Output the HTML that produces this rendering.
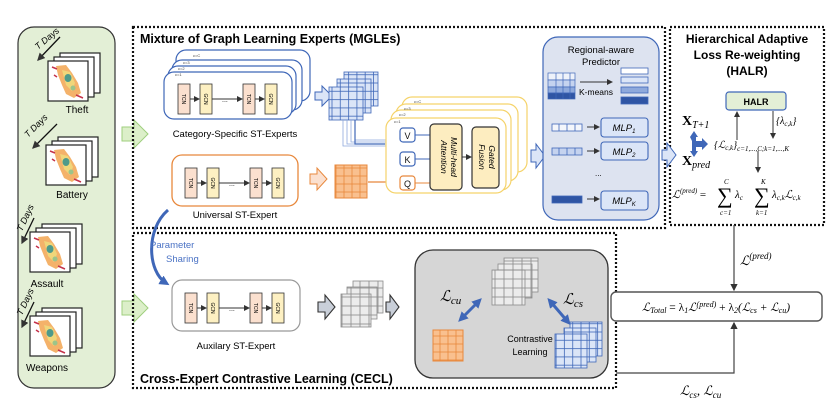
<!DOCTYPE html>
<html><head><meta charset="utf-8"><style>
html,body{margin:0;padding:0;background:#fff;width:831px;height:413px;overflow:hidden}
svg{display:block}
text{font-family:"Liberation Sans",sans-serif}
.m{font-family:"Liberation Serif",serif;font-style:italic}
.s{font-family:"Liberation Serif",serif}
</style></head><body>
<svg width="831" height="413" viewBox="0 0 831 413" xmlns="http://www.w3.org/2000/svg">
<defs>
<pattern id="gb" width="8.3" height="8.3" patternUnits="userSpaceOnUse"><rect width="8.3" height="8.3" fill="#dbe5f7" stroke="#3f67b8" stroke-width="0.8"/></pattern>
<pattern id="go" width="8" height="8" patternUnits="userSpaceOnUse"><rect width="8" height="8" fill="#f9c08f" stroke="#e8883c" stroke-width="0.8"/></pattern>
<pattern id="gg" width="9" height="9" patternUnits="userSpaceOnUse"><rect width="9" height="9" fill="#ececec" stroke="#8a8a8a" stroke-width="0.8"/></pattern>
<marker id="ar" markerWidth="6" markerHeight="6" refX="5" refY="3" orient="auto"><path d="M0,0 L6,3 L0,6 z" fill="#333"/></marker>
<marker id="arb" markerWidth="6" markerHeight="6" refX="5" refY="3" orient="auto"><path d="M0,0 L6,3 L0,6 z" fill="#3f67b8"/></marker>
<marker id="arbig" markerUnits="userSpaceOnUse" markerWidth="10" markerHeight="10" refX="6" refY="5" orient="auto-start-reverse"><path d="M0,0 L10,5 L0,10 z" fill="#3f67b8"/></marker>
<marker id="aro" markerWidth="6" markerHeight="6" refX="5" refY="3" orient="auto"><path d="M0,0 L6,3 L0,6 z" fill="#e8883c"/></marker>
<g id="map">
<rect x="12" y="-8" width="40" height="40" fill="#fff" stroke="#222" stroke-width="1.2"/>
<rect x="6" y="-4" width="40" height="40" fill="#fff" stroke="#222" stroke-width="1.2"/>
<rect x="0" y="0" width="40" height="40" fill="#fff" stroke="#222" stroke-width="1.2"/>
<path d="M8,5 L18,4 L24,12 L30,22 L33,32 L26,37 L18,33 L14,24 L10,14 z" fill="#f4b26a"/>
<path d="M14,9 L22,11 L27,22 L24,30 L18,24 z" fill="#f0d67a"/>
<ellipse cx="20" cy="17" rx="3.5" ry="4" fill="#4f9a8a"/>
<circle cx="25" cy="27" r="2.5" fill="#9cc48a"/>
<path d="M4,6 L9,8 M28,34 L35,37 M6,14 L9,16" stroke="#c4324a" stroke-width="1.5"/>
</g>
<g id="tg">
<rect x="0" y="0" width="12" height="30" fill="#fbe0cf" stroke="#333" stroke-width="0.8"/>
<text x="6" y="15" font-size="5" text-anchor="middle" transform="rotate(90 6 15)" dy="2">TCN</text>
<rect x="22" y="0" width="12" height="30" fill="#fdf0c2" stroke="#333" stroke-width="0.8"/>
<text x="28" y="15" font-size="5" text-anchor="middle" transform="rotate(90 28 15)" dy="2">GCN</text>
<line x1="12" y1="15" x2="21" y2="15" stroke="#333" marker-end="url(#ar)"/>
<line x1="34" y1="15" x2="64" y2="15" stroke="#333" marker-end="url(#ar)"/>
<text x="44" y="18" font-size="7">...</text>
<rect x="65" y="0" width="12" height="30" fill="#fbe0cf" stroke="#333" stroke-width="0.8"/>
<text x="71" y="15" font-size="5" text-anchor="middle" transform="rotate(90 71 15)" dy="2">TCN</text>
<rect x="87" y="0" width="12" height="30" fill="#fdf0c2" stroke="#333" stroke-width="0.8"/>
<text x="93" y="15" font-size="5" text-anchor="middle" transform="rotate(90 93 15)" dy="2">GCN</text>
<line x1="77" y1="15" x2="86" y2="15" stroke="#333" marker-end="url(#ar)"/>
</g>
</defs>

<rect x="18" y="27" width="97" height="361" rx="16" fill="#e3efd6" stroke="#333" stroke-width="1.2"/>
<use href="#map" x="48" y="61"/>
<text x="77" y="113" font-size="10" text-anchor="middle">Theft</text>
<use href="#map" x="46" y="145"/>
<text x="72" y="198" font-size="10" text-anchor="middle">Battery</text>
<use href="#map" x="30" y="232"/>
<text x="47" y="287" font-size="10" text-anchor="middle">Assault</text>
<use href="#map" x="30" y="316"/>
<text x="47" y="371" font-size="10" text-anchor="middle">Weapons</text>
<g font-size="9" font-style="italic">
<text x="38" y="50" transform="rotate(-40 38 50)">T Days</text>
<line x1="60" y1="37" x2="38" y2="60" stroke="#111" stroke-width="1.3" marker-end="url(#ar)"/>
<text x="28" y="138" transform="rotate(-45 28 138)">T Days</text>
<line x1="57" y1="124" x2="33" y2="148" stroke="#111" stroke-width="1.3" marker-end="url(#ar)"/>
<text x="22" y="232" transform="rotate(-65 22 232)">T Days</text>
<line x1="34" y1="218" x2="22" y2="243" stroke="#111" stroke-width="1.3" marker-end="url(#ar)"/>
<text x="22" y="316" transform="rotate(-65 22 316)">T Days</text>
<line x1="34" y1="302" x2="22" y2="327" stroke="#111" stroke-width="1.3" marker-end="url(#ar)"/>
</g>
<path d="M122,127 h12 v-7 l14,14 l-14,14 v-7 h-12 z" fill="#dcefc9" stroke="#9fcf7e"/>
<path d="M122,301 h12 v-7 l14,14 l-14,14 v-7 h-12 z" fill="#dcefc9" stroke="#9fcf7e"/>

<g fill="none" stroke="#111" stroke-width="2.2" stroke-dasharray="2,2">
<rect x="133" y="27" width="532" height="201"/>
<rect x="133" y="233" width="483" height="155"/>
<rect x="670" y="27" width="154" height="198"/>
</g>
<text x="140" y="43" font-size="12.5" font-weight="bold">Mixture of Graph Learning Experts (MGLEs)</text>
<text x="140" y="383" font-size="12.5" font-weight="bold">Cross-Expert Contrastive Learning (CECL)</text>

<g fill="#fff" stroke="#3f67b8" stroke-width="1.2">
<rect x="176" y="50" width="134" height="51" rx="10"/>
<rect x="172" y="60" width="130" height="50" rx="10"/>
<rect x="168" y="66" width="128" height="48" rx="10"/>
<rect x="164" y="72" width="128" height="47" rx="10"/>
</g>
<g font-size="4" fill="#444"><text x="193" y="57">c=C</text><text x="183" y="64">c=3</text><text x="178" y="70">c=2</text><text x="175" y="76">c=1</text></g>
<use href="#tg" x="178" y="84"/>
<text x="235" y="137" font-size="9.5" text-anchor="middle">Category-Specific  ST-Experts</text>
<path d="M315,92 h7 v-6 l10,10 l-10,10 v-6 h-7 z" fill="#dbe5f7" stroke="#3f67b8"/>
<g stroke="#3f67b8" stroke-width="0.8">
<rect x="344" y="72" width="34" height="34" fill="url(#gb)"/>
<rect x="337" y="79" width="34" height="34" fill="url(#gb)"/>
<rect x="329" y="87" width="34" height="33" fill="url(#gb)"/>
</g>
<path d="M355,120 v20 h34 M351,120 v22 h38 M347,120 v24 h42 M343,120 v26 h46" fill="none" stroke="#8ea9dc" stroke-width="0.8"/>
<path d="M355,120 v24 h30 M388,142 v-7 h10 M388,142 v17 h10" fill="none" stroke="#3f67b8" stroke-width="1.2"/>
<line x1="390" y1="135" x2="399" y2="135" stroke="#3f67b8" marker-end="url(#arb)"/>
<line x1="390" y1="159" x2="399" y2="159" stroke="#3f67b8" marker-end="url(#arb)"/>

<rect x="172" y="155" width="126" height="51" rx="10" fill="#fff" stroke="#e8883c" stroke-width="1.3"/>
<use href="#tg" x="185" y="168"/>
<text x="235" y="218" font-size="9.5" text-anchor="middle">Universal  ST-Expert</text>
<path d="M310,174 h7 v-6 l10,11 l-10,11 v-6 h-7 z" fill="#fbe0cf" stroke="#e8883c"/>
<rect x="335" y="165" width="32" height="33" fill="url(#go)" stroke="#e8883c"/>
<line x1="368" y1="182" x2="399" y2="182" stroke="#e8883c" stroke-width="1.2" marker-end="url(#aro)"/>

<g fill="#fff" stroke="#f5d36a" stroke-width="1.2">
<rect x="402" y="97" width="125" height="75" rx="10"/>
<rect x="396" y="104" width="122" height="77" rx="10"/>
<rect x="391" y="110" width="120" height="80" rx="10"/>
<rect x="386" y="118" width="120" height="75" rx="10"/>
</g>
<g font-size="4" fill="#444"><text x="414" y="103">c=C</text><text x="404" y="110">c=3</text><text x="399" y="116">c=2</text><text x="394" y="123">c=1</text></g>
<g stroke-width="1.2" fill="#fff" font-size="9">
<rect x="400" y="128" width="15" height="14" rx="3" stroke="#3f67b8"/><text x="407.5" y="139" text-anchor="middle" stroke="none" fill="#111">V</text>
<rect x="400" y="152" width="15" height="14" rx="3" stroke="#3f67b8"/><text x="407.5" y="163" text-anchor="middle" stroke="none" fill="#111">K</text>
<rect x="400" y="176" width="15" height="14" rx="3" stroke="#e8883c"/><text x="407.5" y="187" text-anchor="middle" stroke="none" fill="#111">Q</text>
</g>
<g stroke="#3f67b8"><line x1="415" y1="135" x2="430" y2="135"/><line x1="415" y1="159" x2="430" y2="159"/></g>
<line x1="415" y1="183" x2="430" y2="183" stroke="#e8883c"/>
<rect x="430" y="124" width="32" height="66" rx="4" fill="#fdedc0" stroke="#333" stroke-width="1.2"/>
<text font-size="8.5" font-style="italic" transform="translate(451,157) rotate(90)" text-anchor="middle">Multi-head</text>
<text font-size="8.5" font-style="italic" transform="translate(441,157) rotate(90)" text-anchor="middle">Attention</text>
<rect x="472" y="127" width="27" height="61" rx="4" fill="#fdedc0" stroke="#333" stroke-width="1.2"/>
<text font-size="8.5" font-style="italic" transform="translate(489,157) rotate(90)" text-anchor="middle">Gated</text>
<text font-size="8.5" font-style="italic" transform="translate(479,157) rotate(90)" text-anchor="middle">Fusion</text>
<line x1="462" y1="157" x2="471" y2="157" stroke="#333" marker-end="url(#ar)"/>
<path d="M531,150 h5 v-6 l9,12 l-9,12 v-6 h-5 z" fill="#dbe5f7" stroke="#3f67b8"/>

<rect x="543" y="37" width="116" height="183" rx="15" fill="#dde3f0" stroke="#3f67b8" stroke-width="1.2"/>
<text x="601" y="53" font-size="9.5" text-anchor="middle">Regional-aware</text>
<text x="601" y="65" font-size="9.5" text-anchor="middle">Predictor</text>
<rect x="548" y="73" width="27" height="7" fill="#eef2fa" stroke="#3f67b8" stroke-width="0.7"/>
<rect x="548" y="80" width="27" height="7" fill="#c5d3ef" stroke="#3f67b8" stroke-width="0.7"/>
<rect x="548" y="87" width="27" height="6" fill="#8ea9dc" stroke="#3f67b8" stroke-width="0.7"/>
<rect x="548" y="93" width="27" height="6" fill="#2f55a4" stroke="#3f67b8" stroke-width="0.7"/>
<path d="M556,73 v26 M563,73 v26 M570,73 v26" stroke="#3f67b8" stroke-width="0.7"/>
<line x1="580" y1="82" x2="612" y2="82" stroke="#333" marker-end="url(#ar)"/>
<text x="579" y="95" font-size="8.5">K-means</text>
<rect x="621" y="68" width="27" height="6" fill="#fff" stroke="#3f67b8" stroke-width="0.8"/>
<rect x="621" y="77" width="27" height="6" fill="#dbe5f7" stroke="#3f67b8" stroke-width="0.8"/>
<rect x="621" y="87" width="27" height="6" fill="#8ea9dc" stroke="#3f67b8" stroke-width="0.8"/>
<rect x="621" y="97" width="27" height="7" fill="#2f55a4" stroke="#3f67b8" stroke-width="0.8"/>
<g stroke="#3f67b8" stroke-width="0.8">
<rect x="552" y="124" width="30" height="7" fill="#f4f6fb"/>
<rect x="552" y="148" width="30" height="7" fill="#c5d3ef"/>
<rect x="552" y="196" width="30" height="7" fill="#2f55a4"/>
<path d="M559,124v7M567,124v7M575,124v7M559,148v7M567,148v7M575,148v7"/>
</g>
<line x1="587" y1="127" x2="599" y2="127" stroke="#333" marker-end="url(#ar)"/>
<line x1="587" y1="151" x2="599" y2="151" stroke="#333" marker-end="url(#ar)"/>
<line x1="587" y1="199" x2="599" y2="199" stroke="#333" marker-end="url(#ar)"/>
<g fill="#dbe5f7" stroke="#3f67b8" stroke-width="1.1">
<rect x="601" y="118" width="47" height="19" rx="3"/>
<rect x="601" y="142" width="47" height="18" rx="3"/>
<rect x="601" y="191" width="47" height="19" rx="3"/>
</g>
<g font-size="9.5" font-style="italic" text-anchor="middle">
<text x="624" y="131">MLP<tspan font-size="6" dy="2">1</tspan></text>
<text x="624" y="155">MLP<tspan font-size="6" dy="2">2</tspan></text>
<text x="624" y="204">MLP<tspan font-size="6" dy="2">K</tspan></text>
</g>
<text x="595" y="176" font-size="8">...</text>
<path d="M662,150 h5 v-7 l9,12 l-9,12 v-7 h-5 z" fill="#dbe5f7" stroke="#3f67b8"/>

<g font-size="12" font-weight="bold" text-anchor="middle">
<text x="747" y="43">Hierarchical Adaptive</text>
<text x="747" y="59">Loss Re-weighting</text>
<text x="747" y="75">(HALR)</text>
</g>
<rect x="726" y="92" width="60" height="18" rx="3" fill="#e3efd6" stroke="#3f67b8" stroke-width="1.2"/>
<text x="756" y="105" font-size="9" font-weight="bold" text-anchor="middle">HALR</text>
<text x="682" y="125" font-size="14" font-weight="bold" class="s">X<tspan font-size="10" dy="3" font-style="italic" font-weight="normal">T+1</tspan></text>
<text x="682" y="165" font-size="14" font-weight="bold" class="s">X<tspan font-size="10" dy="3" font-style="italic" font-weight="normal">pred</tspan></text>
<path d="M690,137 l4,-6 l4,6 h-2 v4 h6 v-3 l6,6 l-6,6 v-3 h-6 v4 h2 l-4,6 l-4,-6 h2 v-10 z" fill="#3f67b8"/>
<text x="714" y="148" font-size="10" class="m">{ℒ<tspan font-size="7" dy="2">c,k</tspan><tspan dy="-2">}</tspan><tspan font-size="7" dy="3">c=1,...,C;k=1,...,K</tspan></text>
<line x1="737" y1="140" x2="737" y2="112" stroke="#333" marker-end="url(#ar)"/>
<line x1="773" y1="111" x2="773" y2="138" stroke="#333" marker-end="url(#ar)"/>
<text x="776" y="124" font-size="10" class="m">{λ<tspan font-size="7" dy="2">c,k</tspan><tspan dy="-2">}</tspan></text>
<line x1="758" y1="151" x2="758" y2="172" stroke="#333" marker-end="url(#ar)"/>
<text x="672" y="198" font-size="11" class="m">ℒ<tspan font-size="7" dy="-5">(pred)</tspan><tspan dy="5" font-style="normal"> = </tspan></text>
<text x="717" y="203" font-size="22" class="s">∑</text>
<text x="724" y="184" font-size="7" class="m">C</text><text x="720" y="215" font-size="7" class="m">c=1</text>
<text x="735" y="198" font-size="11" class="m">λ<tspan font-size="7" dy="2">c</tspan></text>
<text x="754" y="203" font-size="22" class="s">∑</text>
<text x="761" y="184" font-size="7" class="m">K</text><text x="756" y="215" font-size="7" class="m">k=1</text>
<text x="772" y="198" font-size="11" class="m">λ<tspan font-size="7" dy="2">c,k</tspan><tspan dy="-2">ℒ</tspan><tspan font-size="7" dy="2">c,k</tspan></text>

<line x1="734" y1="225" x2="734" y2="290" stroke="#444" stroke-width="1.2" marker-end="url(#ar)"/>
<text x="740" y="265" font-size="13" class="m">ℒ<tspan font-size="9" dy="-6">(pred)</tspan></text>
<rect x="611" y="292" width="211" height="29" rx="5" fill="#fff" stroke="#555" stroke-width="1.4"/>
<text x="716" y="311" font-size="11.5" class="m" text-anchor="middle">ℒ<tspan font-size="8" dy="2">Total</tspan><tspan dy="-2" font-style="normal"> = λ</tspan><tspan font-size="8" dy="2">1</tspan><tspan dy="-2">ℒ</tspan><tspan font-size="8" dy="-4">(pred)</tspan><tspan dy="4" font-style="normal"> + λ</tspan><tspan font-size="8" dy="2">2</tspan><tspan dy="-2">(ℒ</tspan><tspan font-size="8" dy="2">cs</tspan><tspan dy="-2"> + ℒ</tspan><tspan font-size="8" dy="2">cu</tspan><tspan dy="-2">)</tspan></text>
<path d="M616,373 H734 V323" fill="none" stroke="#444" stroke-width="1.2" marker-end="url(#ar)"/>
<text x="680" y="395" font-size="13" class="m">ℒ<tspan font-size="9" dy="3">cs</tspan><tspan dy="-3">, ℒ</tspan><tspan font-size="9" dy="3">cu</tspan></text>

<path d="M168,210 C145,230 148,272 166,283" fill="none" stroke="#3f67b8" stroke-width="3" marker-end="url(#arbig)"/>
<text x="150" y="248" font-size="9.5" fill="#4a72c4">Parameter</text>
<text x="166" y="262" font-size="9.5" fill="#4a72c4">Sharing</text>

<rect x="172" y="280" width="128" height="51" rx="10" fill="#fff" stroke="#999" stroke-width="1.2"/>
<use href="#tg" x="185" y="293"/>
<text x="236" y="349" font-size="9.5" text-anchor="middle">Auxilary ST-Expert</text>
<path d="M318,302 h7 v-7 l10,12 l-10,12 v-7 h-7 z" fill="#c9cfd9" stroke="#333" stroke-width="1.1"/>
<g stroke="#8a8a8a" stroke-width="0.8">
<rect x="353" y="281" width="30" height="32" fill="url(#gg)"/>
<rect x="347" y="287" width="30" height="32" fill="url(#gg)"/>
<rect x="341" y="294" width="30" height="33" fill="url(#gg)"/>
</g>
<path d="M386,302 h4 v-7 l9,12 l-9,12 v-7 h-4 z" fill="#c9cfd9" stroke="#333" stroke-width="1.1"/>

<rect x="415" y="250" width="193" height="128" rx="18" fill="#d6d6d6" stroke="#333" stroke-width="1.3"/>
<g stroke="#8a8a8a" stroke-width="0.8">
<rect x="504" y="258" width="34" height="34" fill="url(#gg)"/>
<rect x="498" y="264" width="34" height="34" fill="url(#gg)"/>
<rect x="492" y="270" width="33" height="35" fill="url(#gg)"/>
</g>
<rect x="433" y="330" width="30" height="31" fill="url(#go)" stroke="#e8883c"/>
<g stroke="#3f67b8" stroke-width="0.8">
<rect x="570" y="322" width="32" height="34" fill="url(#gb)"/>
<rect x="564" y="328" width="32" height="34" fill="url(#gb)"/>
<rect x="555" y="334" width="32" height="34" fill="url(#gb)"/>
</g>
<text x="530" y="342" font-size="9" text-anchor="middle">Contrastive</text>
<text x="530" y="355" font-size="9" text-anchor="middle">Learning</text>
<text x="440" y="301" font-size="15" class="m">ℒ<tspan font-size="11" dy="3">cu</tspan></text>
<text x="563" y="304" font-size="15" class="m">ℒ<tspan font-size="11" dy="3">cs</tspan></text>
<g stroke="#3f67b8" stroke-width="3" marker-end="url(#arbig)" marker-start="url(#arbig)">
<line x1="461" y1="319" x2="479" y2="301"/>
<line x1="550" y1="301" x2="568" y2="322"/>
</g>
</svg>
</body></html>
